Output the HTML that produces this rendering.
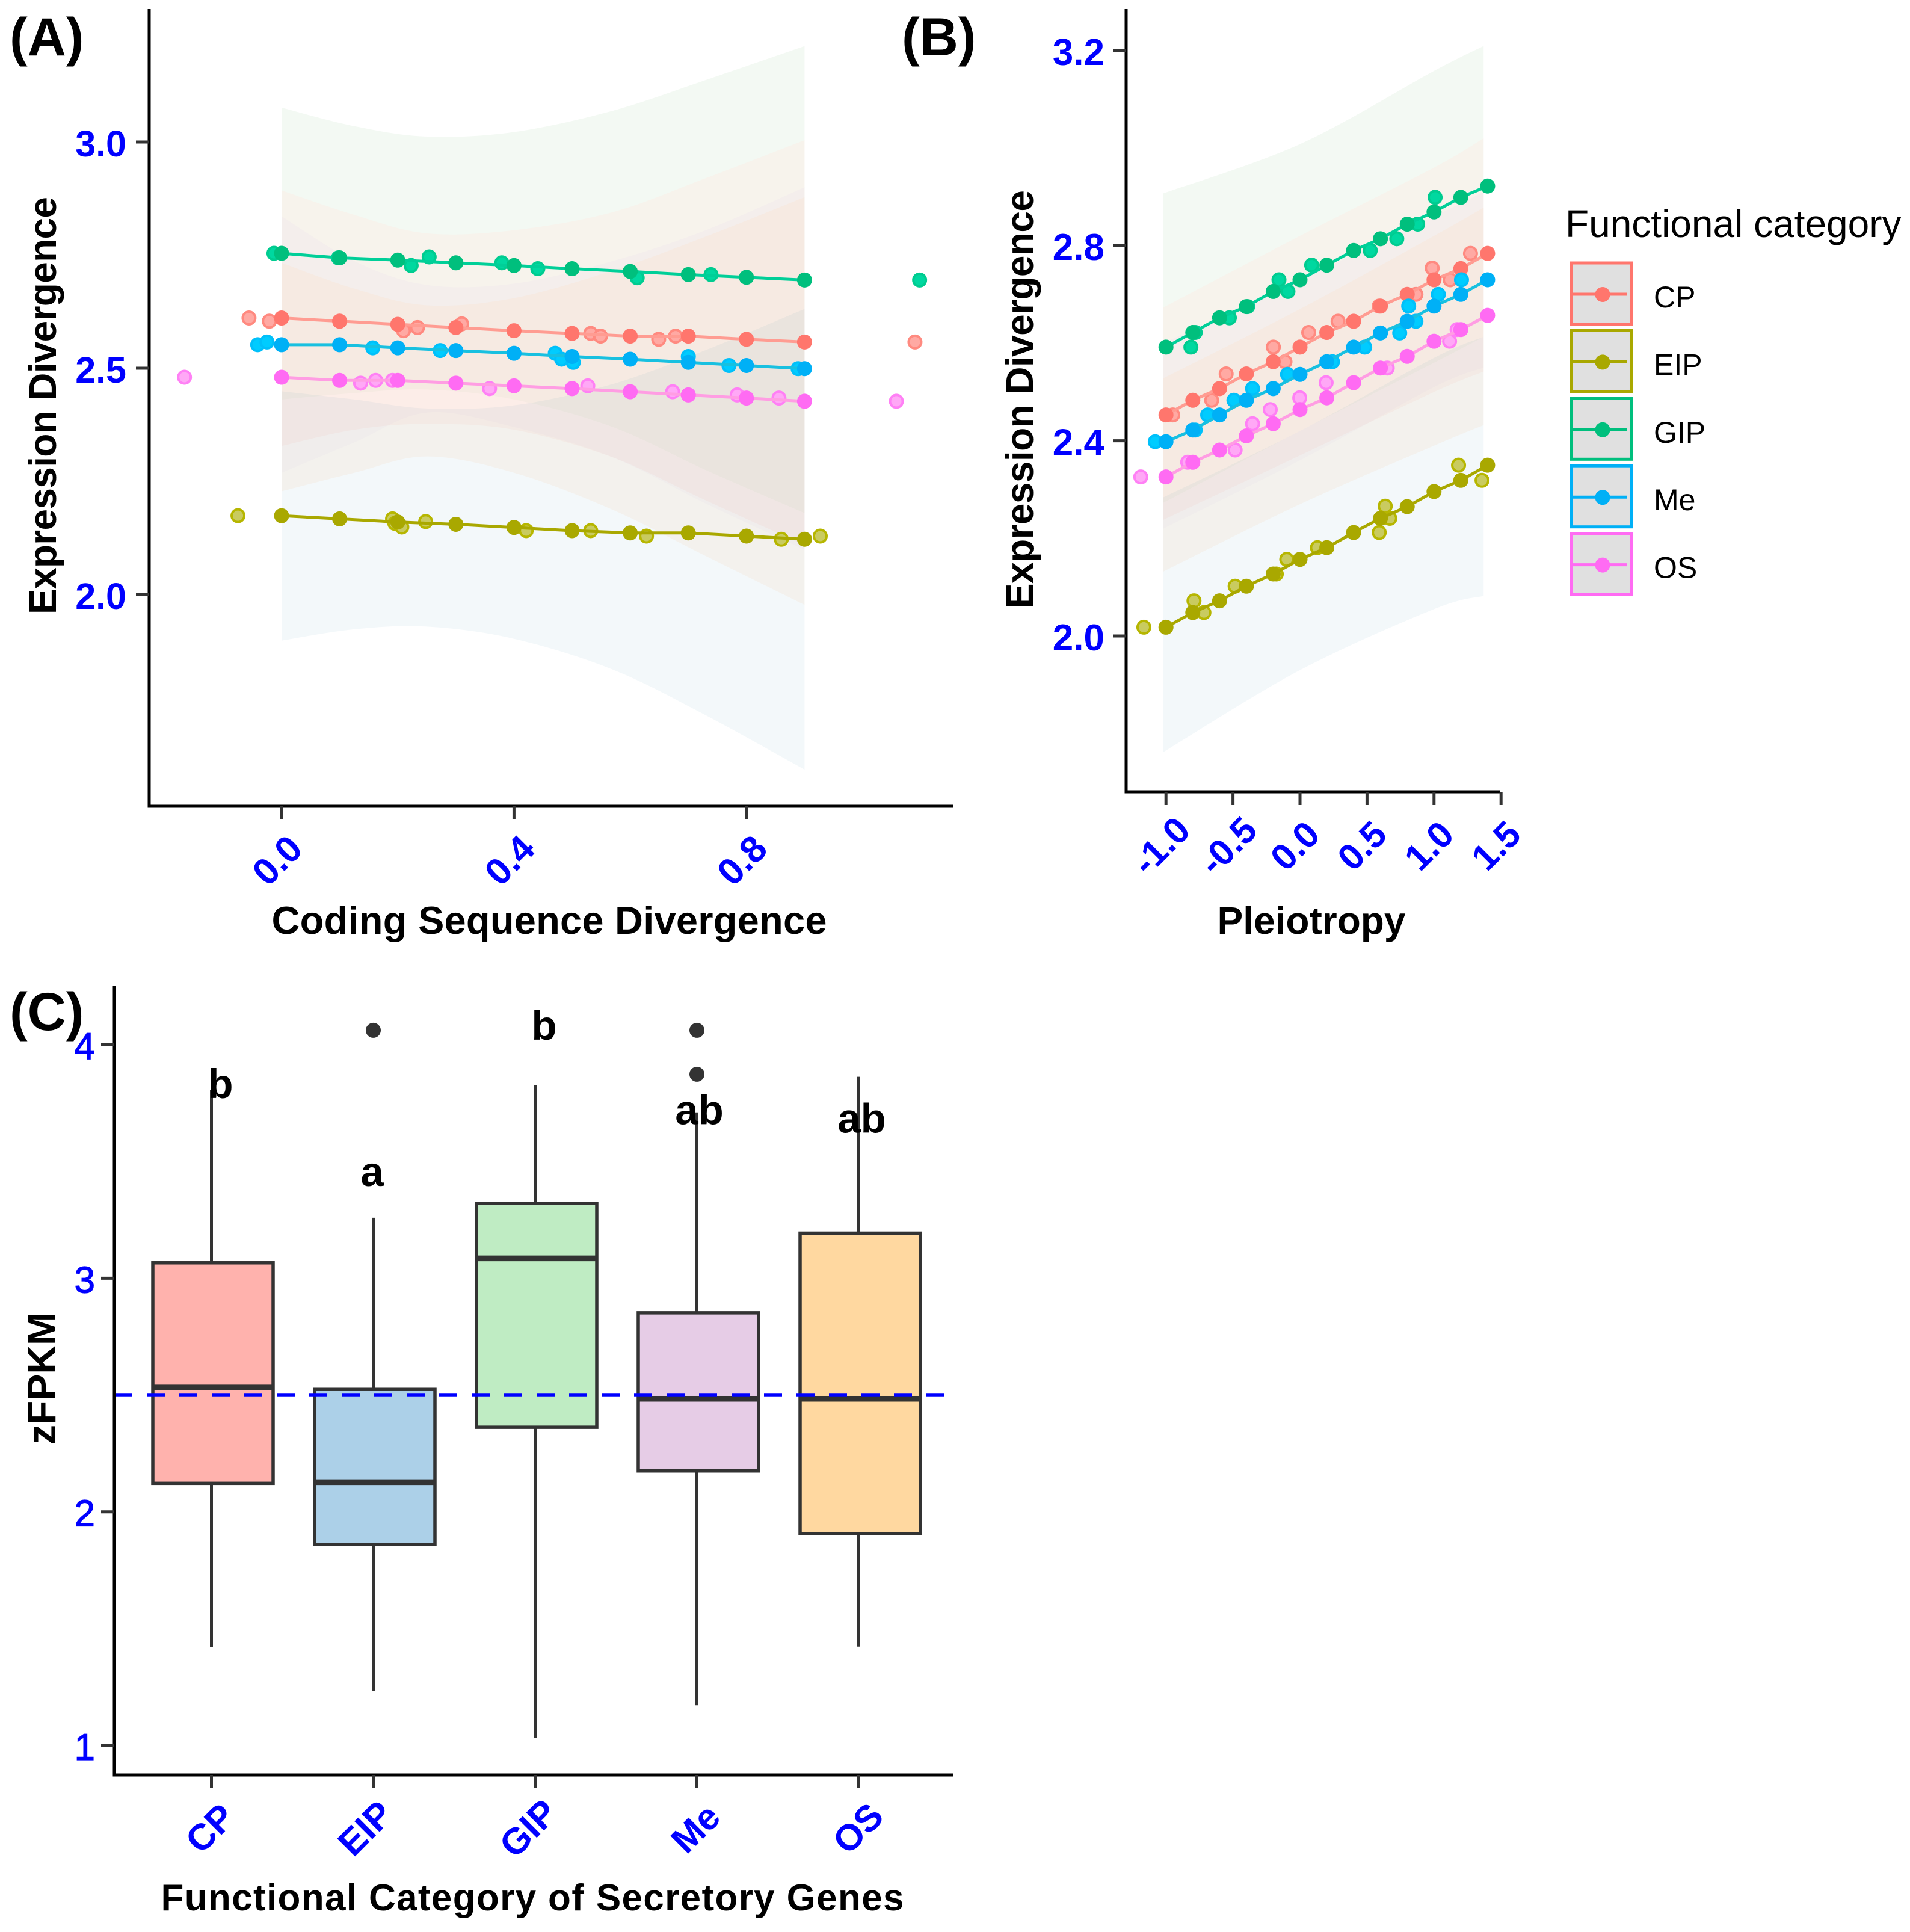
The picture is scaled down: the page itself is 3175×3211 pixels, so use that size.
<!DOCTYPE html>
<html lang="en">
<head>
<meta charset="utf-8">
<title>Expression divergence by functional category</title>
<style>
html,body{margin:0;padding:0;background:#fff;}
svg{display:block;font-family:"Liberation Sans",sans-serif;}
</style>
</head>
<body>
<svg id="fig" xmlns="http://www.w3.org/2000/svg" width="3175" height="3211" viewBox="0 0 3175 3211">
  <rect width="3175" height="3211" fill="#ffffff"/>
  <g id="panelA"></g>
  <g id="panelB"></g>
  <g id="panelC"></g>
  <g id="legend"></g>

  <text x="16" y="92" font-size="89" font-weight="bold">(A)</text>
  <text x="1499" y="92" font-size="89" font-weight="bold">(B)</text>
  <text x="16" y="1712" font-size="89" font-weight="bold">(C)</text>

  <text x="913" y="1552" font-size="65" font-weight="bold" text-anchor="middle" textLength="923" lengthAdjust="spacing">Coding Sequence Divergence</text>
  <text transform="translate(93,674) rotate(-90)" font-size="64" font-weight="bold" text-anchor="middle" textLength="694" lengthAdjust="spacing">Expression Divergence</text>
  <text x="2180" y="1552" font-size="64" font-weight="bold" text-anchor="middle">Pleiotropy</text>
  <text transform="translate(1717,664) rotate(-90)" font-size="64" font-weight="bold" text-anchor="middle" textLength="696" lengthAdjust="spacing">Expression Divergence</text>
  <text x="885" y="3175" font-size="62" font-weight="bold" text-anchor="middle" textLength="1235" lengthAdjust="spacing">Functional Category of Secretory Genes</text>
  <text transform="translate(92,2291) rotate(-90)" font-size="66" font-weight="bold" text-anchor="middle">zFPKM</text>
  <text x="2602" y="394" font-size="64">Functional category</text>
</svg>
<script>
// ---- shared categories ----
const seriesNames = ['CP','EIP','GIP','Me','OS'];
const seriesColors = ['#ff766d','#a9a800','#00bf7d','#00b0f6','#ff6bf3'];
const seriesLineColors = ['#ff9c92','#a9a800','#00cf98','#18c0e0','#ff9de3'];
const seriesPaleFill = ['#ffa9a3','#c9cb60','#00d8a0','#00ccff','#ffa8f6'];
const seriesPaleRing = ['#ff8a80','#b6b600','#00cc90','#00c0fa','#ff80f5'];

// ---- Panel A data ----
const aXTicks = [0, 0.4, 0.8];
const aYTicks = [2.0, 2.5, 3.0];
const aLineX = [0,0.1,0.2,0.3,0.4,0.5,0.6,0.7,0.8,0.9];
const aLineCP = [2.611,2.604,2.597,2.590,2.583,2.577,2.571,2.571,2.564,2.558];
const aLineEIP = [2.174,2.167,2.160,2.155,2.148,2.141,2.136,2.136,2.129,2.122];
const aLineGIP = [2.754,2.744,2.739,2.733,2.727,2.720,2.714,2.707,2.701,2.695];
const aLineMe = [2.552,2.552,2.545,2.539,2.533,2.526,2.520,2.513,2.506,2.499];
const aLineOS = [2.480,2.473,2.473,2.467,2.461,2.455,2.448,2.441,2.434,2.427];

const aPaleXCP = [-0.056,-0.021,0.21,0.234,0.31,0.532,0.549,0.649,0.678,1.09];
const aPaleYCP = [2.611,2.604,2.583,2.590,2.598,2.577,2.571,2.564,2.571,2.558];
const aPaleXEIP = [-0.075,0.191,0.195,0.207,0.248,0.421,0.532,0.628,0.860,0.927];
const aPaleYEIP = [2.174,2.167,2.157,2.149,2.161,2.141,2.141,2.129,2.122,2.129];
const aPaleXGIP = [-0.013,0.098,0.223,0.254,0.379,0.441,0.612,0.739,1.098];
const aPaleYGIP = [2.754,2.744,2.727,2.746,2.733,2.720,2.700,2.707,2.695];
const aPaleXMe = [-0.041,-0.025,0.157,0.273,0.471,0.482,0.502,0.70,0.77,0.889];
const aPaleYMe = [2.552,2.558,2.545,2.539,2.533,2.520,2.513,2.526,2.506,2.499];
const aPaleXOS = [-0.167,0.136,0.162,0.191,0.358,0.527,0.673,0.784,0.856,1.058];
const aPaleYOS = [2.480,2.467,2.473,2.473,2.455,2.461,2.448,2.441,2.434,2.427];

const aBandX = [0,0.125,0.25,0.4,0.57,0.73,0.9];
const aGUp = [3.076,3.035,3.012,3.022,3.069,3.137,3.212];
const aGLo = [2.431,2.445,2.453,2.431,2.370,2.275,2.180];
const aCUp = [2.893,2.839,2.798,2.805,2.845,2.920,3.004];
const aCLo = [2.328,2.364,2.377,2.364,2.303,2.208,2.109];
const aMUp = [2.836,2.737,2.684,2.687,2.737,2.805,2.900];
const aMLo = [2.269,2.336,2.402,2.370,2.303,2.201,2.099];
const aOUp = [2.733,2.676,2.639,2.655,2.716,2.791,2.878];
const aOLo = [2.228,2.269,2.305,2.269,2.187,2.085,1.977];
const aEUp = [2.449,2.431,2.411,2.418,2.465,2.540,2.631];
const aELo = [1.898,1.923,1.929,1.902,1.834,1.733,1.613];

// ---- Panel B data ----
const bXTicks = [-1.0,-0.5,0.0,0.5,1.0,1.5];
const bYTicks = [2.0,2.4,2.8,3.2];
const bLineX = [-1,-0.8,-0.6,-0.4,-0.2,0,0.2,0.4,0.6,0.8,1,1.2,1.4];
const bLineCP = [2.453,2.483,2.507,2.537,2.562,2.592,2.622,2.645,2.676,2.700,2.730,2.753,2.784];
const bLineEIP = [2.018,2.048,2.072,2.102,2.127,2.157,2.181,2.212,2.241,2.265,2.296,2.319,2.350];
const bLineGIP = [2.592,2.622,2.652,2.675,2.706,2.730,2.760,2.790,2.814,2.844,2.869,2.899,2.922];
const bLineMe = [2.398,2.422,2.453,2.483,2.507,2.536,2.562,2.592,2.621,2.645,2.676,2.700,2.730];
const bLineOS = [2.326,2.356,2.381,2.410,2.435,2.464,2.488,2.519,2.549,2.573,2.604,2.628,2.657];

const bPaleXCP = [-0.949,-0.659,-0.551,-0.199,-0.112,0.065,0.284,0.591,0.865,0.986,1.120,1.272];
const bPaleYCP = [2.453,2.483,2.537,2.592,2.562,2.622,2.645,2.676,2.700,2.754,2.730,2.784];
const bPaleXEIP = [-1.165,-0.791,-0.717,-0.484,-0.177,-0.099,0.130,0.591,0.636,0.670,1.183,1.358];
const bPaleYEIP = [2.018,2.072,2.048,2.102,2.127,2.157,2.181,2.212,2.266,2.241,2.350,2.319];
const bPaleXGIP = [-0.814,-0.782,-0.527,-0.391,-0.157,-0.090,0.087,0.524,0.722,0.878,1.008];
const bPaleYGIP = [2.592,2.622,2.652,2.675,2.730,2.706,2.760,2.790,2.814,2.844,2.899];
const bPaleXMe = [-1.080,-0.782,-0.689,-0.493,-0.354,-0.093,0.242,0.483,0.744,0.865,0.811,1.032,1.205];
const bPaleYMe = [2.398,2.422,2.453,2.483,2.507,2.536,2.562,2.592,2.621,2.645,2.676,2.700,2.730];
const bPaleXOS = [-1.188,-0.838,-0.484,-0.354,-0.222,-0.002,0.195,0.651,1.116,1.172];
const bPaleYOS = [2.326,2.356,2.381,2.435,2.464,2.488,2.519,2.549,2.604,2.628];

const bBandX = [-1.02,0,1.0,1.37];
const bGUp = [2.907,3.008,3.158,3.209];
const bGLo = [2.273,2.42,2.56,2.613];
const bCUp = [2.673,2.82,2.96,3.02];
const bCLo = [2.238,2.37,2.50,2.542];
const bMUp = [2.60,2.73,2.86,2.91];
const bMLo = [2.22,2.36,2.51,2.55];
const bOUp = [2.528,2.67,2.82,2.878];
const bOLo = [2.132,2.27,2.39,2.432];
const bEUp = [2.284,2.42,2.57,2.613];
const bELo = [1.762,1.93,2.055,2.082];

// ---- Panel C data ----
const cCategories = ['CP','EIP','GIP','Me','OS'];
const cYTicks = [1,2,3,4];
const cQ1 = [2.122,1.86,2.362,2.175,1.907];
const cMedian = [2.532,2.127,3.085,2.484,2.484];
const cQ3 = [3.066,2.524,3.32,2.852,3.193];
const cWhiskerLow = [1.42,1.233,1.032,1.172,1.423];
const cWhiskerHigh = [3.807,3.259,3.825,3.71,3.862];
const cOutlierCat = [1,3,3];
const cOutlierVal = [4.061,4.061,3.873];
const cLetters = ['b','a','b','ab','ab'];
const cLetterVal = [3.771,3.395,4.021,3.659,3.623];
const cReference = [2.5];

// ---- axis functions ----
function xA(v){return 468+966*v;}
function yA(v){return 236+(3-v)*752;}
function xB(v){return 2161+222.8*v;}
function yB(v){return 1057-(v-2)*811;}
function xC(i){return 351.5+269*i;}
function yC(v){return 2901-(v-1)*388.3;}

const NS='http://www.w3.org/2000/svg';
function mk(parent,tag,attrs,txt){
  const e=document.createElementNS(NS,tag);
  for(const k in attrs){e.setAttribute(k,attrs[k]);}
  if(txt!==undefined){e.textContent=txt;}
  parent.appendChild(e);
  return e;
}

const bandFills=[['GIP','rgb(15,135,15)',0.05],['CP','rgb(255,231,223)',0.35],['Me','rgb(200,170,230)',0.06],['OS','rgb(255,220,190)',0.2],['EIP','rgb(15,115,155)',0.05]];

// smooth edge through a list of [x,y] pairs (assumes the pen is already on the first pair)
function smoothEdge(p){
  let d='';
  for(let i=0;i<p.length-1;i++){
    const p0=p[Math.max(i-1,0)],p1=p[i],p2=p[i+1],p3=p[Math.min(i+2,p.length-1)];
    d+='C'+(p1[0]+(p2[0]-p0[0])/6)+' '+(p1[1]+(p2[1]-p0[1])/6)+' '+(p2[0]-(p3[0]-p1[0])/6)+' '+(p2[1]-(p3[1]-p1[1])/6)+' '+p2[0]+' '+p2[1]+' ';
  }
  return d;
}
function drawBand(g,xs,up,lo,xf,yf,fill,op,name){
  const top=xs.map((x,i)=>[xf(x),yf(up[i])]);
  const bot=xs.map((x,i)=>[xf(x),yf(lo[i])]).reverse();
  const d='M'+top[0][0]+' '+top[0][1]+' '+smoothEdge(top)+'L'+bot[0][0]+' '+bot[0][1]+' '+smoothEdge(bot)+'Z';
  const p=mk(g,'path',{d:d,fill:fill,'fill-opacity':op,stroke:'none'});
  
  
}

function drawSeries(g,idx,lineX,lineY,paleX,paleY,xf,yf,panel){
  const col=seriesColors[idx], nm=seriesNames[idx].toLowerCase();
  paleX.forEach((x,i)=>{
    const c=mk(g,'circle',{cx:xf(x),cy:yf(paleY[i]),r:10.5,fill:seriesPaleFill[idx],stroke:seriesPaleRing[idx],'stroke-width':4});
    
    
  });
  const pl=mk(g,'polyline',{points:lineX.map((x,i)=>xf(x)+','+yf(lineY[i])).join(' '),fill:'none',stroke:seriesLineColors[idx],'stroke-width':5});
  
  
  lineX.forEach((x,i)=>{
    const c=mk(g,'circle',{cx:xf(x),cy:yf(lineY[i]),r:12.5,fill:col});
    
    
  });
}

function axisLines(g,x0,yTop,yBot,xEnd,panel){
  const a=mk(g,'line',{x1:x0,y1:yTop,x2:x0,y2:yBot+2.5,stroke:'#000','stroke-width':5});
  
  
  const b=mk(g,'line',{x1:x0-2.5,y1:yBot,x2:xEnd,y2:yBot,stroke:'#000','stroke-width':5});
  
  
}
function yTick(g,x0,y,label,size,weight,labelX,off,panel,thicken){
  const t=mk(g,'line',{x1:x0-22,y1:y,x2:x0,y2:y,stroke:'#333','stroke-width':5});
  
  
  const l=mk(g,'text',{x:labelX,y:y+off,'font-size':size,'font-weight':weight,fill:'#0000ff','text-anchor':'end',stroke:'#0000ff','stroke-width':thicken});
  l.textContent=label;
  
  
}
function xTick(g,x,yBot,label,cy,dx,size,panel){
  const t=mk(g,'line',{x1:x,y1:yBot,x2:x,y2:yBot+22,stroke:'#333','stroke-width':5});
  
  
  const l=mk(g,'text',{transform:'translate('+(x+dx)+','+cy+') rotate(-45)','font-size':size,'font-weight':'bold',fill:'#0000ff','text-anchor':'middle',dy:'0.36em'},label);
  
  
}

// ---- Panel A ----
const gA=document.getElementById('panelA');
const aBands={GIP:[aGUp,aGLo],CP:[aCUp,aCLo],Me:[aMUp,aMLo],OS:[aOUp,aOLo],EIP:[aEUp,aELo]};
bandFills.forEach(b=>drawBand(gA,aBandX,aBands[b[0]][0],aBands[b[0]][1],xA,yA,b[1],b[2],'confidence-band-a-'+b[0].toLowerCase()));
drawSeries(gA,0,aLineX,aLineCP,aPaleXCP,aPaleYCP,xA,yA,'a');
drawSeries(gA,1,aLineX,aLineEIP,aPaleXEIP,aPaleYEIP,xA,yA,'a');
drawSeries(gA,2,aLineX,aLineGIP,aPaleXGIP,aPaleYGIP,xA,yA,'a');
drawSeries(gA,3,aLineX,aLineMe,aPaleXMe,aPaleYMe,xA,yA,'a');
drawSeries(gA,4,aLineX,aLineOS,aPaleXOS,aPaleYOS,xA,yA,'a');
axisLines(gA,248,15,1340,1585,'a');
aYTicks.forEach(v=>yTick(gA,248,yA(v),v.toFixed(1),61,'bold',210,24,'a',0));
aXTicks.forEach(v=>xTick(gA,xA(v),1340,v.toFixed(1),1429,-8,62,'a'));

// ---- Panel B ----
const gB=document.getElementById('panelB');
const bBands={GIP:[bGUp,bGLo],CP:[bCUp,bCLo],Me:[bMUp,bMLo],OS:[bOUp,bOLo],EIP:[bEUp,bELo]};
bandFills.forEach(b=>drawBand(gB,bBandX,bBands[b[0]][0],bBands[b[0]][1],xB,yB,b[1],b[2],'confidence-band-b-'+b[0].toLowerCase()));
drawSeries(gB,0,bLineX,bLineCP,bPaleXCP,bPaleYCP,xB,yB,'b');
drawSeries(gB,1,bLineX,bLineEIP,bPaleXEIP,bPaleYEIP,xB,yB,'b');
drawSeries(gB,2,bLineX,bLineGIP,bPaleXGIP,bPaleYGIP,xB,yB,'b');
drawSeries(gB,3,bLineX,bLineMe,bPaleXMe,bPaleYMe,xB,yB,'b');
drawSeries(gB,4,bLineX,bLineOS,bPaleXOS,bPaleYOS,xB,yB,'b');
axisLines(gB,1872,15,1316,2494,'b');
bYTicks.forEach(v=>yTick(gB,1872,yB(v),v.toFixed(1),62,'bold',1836,24,'b',0));
bXTicks.forEach(v=>xTick(gB,xB(v),1316,v.toFixed(1),1405,-9,61,'b'));

// ---- Panel C ----
const gC=document.getElementById('panelC');
cCategories.forEach((c,i)=>{
  const nm=c.toLowerCase();
  const boxFill=['#ffb2ad','#acd0e8','#bfecc3','#e6cce6','#ffd8a0'][i];
  const cx=xC(i), bx=cx+2.5, hw=100;
  const w1=mk(gC,'line',{x1:cx,y1:yC(cQ3[i]),x2:cx,y2:yC(cWhiskerHigh[i]),stroke:'#333','stroke-width':5});
  
  
  const w2=mk(gC,'line',{x1:cx,y1:yC(cQ1[i]),x2:cx,y2:yC(cWhiskerLow[i]),stroke:'#333','stroke-width':5});
  
  
  const r=mk(gC,'rect',{x:bx-hw,y:yC(cQ3[i]),width:hw*2,height:yC(cQ1[i])-yC(cQ3[i]),fill:boxFill,stroke:'#333','stroke-width':5.5});
  
  
  const m=mk(gC,'line',{x1:bx-hw,y1:yC(cMedian[i]),x2:bx+hw,y2:yC(cMedian[i]),stroke:'#333','stroke-width':9.5});
  
  
});
cOutlierCat.forEach((ci,i)=>{
  const o=mk(gC,'circle',{cx:xC(ci),cy:yC(cOutlierVal[i]),r:12.5,fill:'#333'});
  
  
});
const refLine=mk(gC,'line',{x1:190,y1:yC(cReference[0]),x2:1580,y2:yC(cReference[0]),stroke:'#0000ff','stroke-width':4.5,'stroke-dasharray':'30 24'});


cLetters.forEach((s,i)=>{
  const t=mk(gC,'text',{x:xC(i)+[15,-2,15,4,5][i],y:yC(cLetterVal[i]),'font-size':69,'font-weight':'bold','text-anchor':'middle'},s);
  
  
});
axisLines(gC,190,1638,2950,1585,'c');
cYTicks.forEach(v=>yTick(gC,190,yC(v),String(v),62,'normal',158,24,'c',1.2));
cCategories.forEach((c,i)=>xTick(gC,xC(i),2950,c,3038,[-3,-14,-12,-3,-2][i],61,'c'));

// ---- Legend ----
const gL=document.getElementById('legend');
seriesNames.forEach((s,i)=>{
  const top=437+112.4*i, col=seriesColors[i], nm=s.toLowerCase();
  const r=mk(gL,'rect',{x:2611.5,y:top,width:101,height:101.5,fill:'#e0e0e0',stroke:col,'stroke-width':5});
  
  
  const l=mk(gL,'line',{x1:2613,y1:top+52,x2:2705,y2:top+52,stroke:col,'stroke-width':5});
  
  
  const c=mk(gL,'circle',{cx:2664,cy:top+52.5,r:12.5,fill:col});
  
  
  const t=mk(gL,'text',{x:2749,y:top+74,'font-size':50,fill:'#000'},s);
  
  
});
</script>
</body>
</html>
